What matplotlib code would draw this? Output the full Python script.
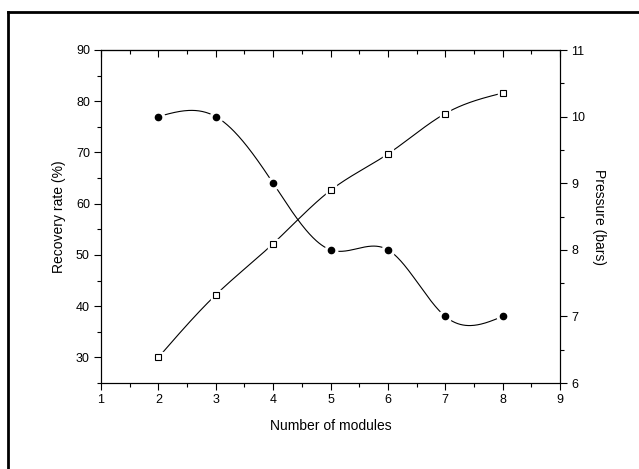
import numpy as np
import matplotlib
matplotlib.use("Agg")
import matplotlib.pyplot as plt
from matplotlib.ticker import MultipleLocator
from matplotlib.lines import Line2D

modules = [2, 3, 4, 5, 6, 7, 8]
recovery = [30.0, 42.2, 52.2, 62.6, 69.7, 77.6, 81.6]
pressure = [10, 10, 9, 8, 8, 7, 7]


def natural_spline(x, y, n=400):
    x = np.asarray(x, float)
    y = np.asarray(y, float)
    k = len(x)
    h = np.diff(x)
    A = np.zeros((k, k))
    b = np.zeros(k)
    A[0, 0] = 1
    A[-1, -1] = 1
    for i in range(1, k - 1):
        A[i, i - 1] = h[i - 1]
        A[i, i] = 2 * (h[i - 1] + h[i])
        A[i, i + 1] = h[i]
        b[i] = 3 * ((y[i + 1] - y[i]) / h[i] - (y[i] - y[i - 1]) / h[i - 1])
    c = np.linalg.solve(A, b)
    xs = np.linspace(x[0], x[-1], n)
    ys = np.empty_like(xs)
    for j, xv in enumerate(xs):
        i = min(np.searchsorted(x, xv, side="right") - 1, k - 2)
        dx = xv - x[i]
        bi = (y[i + 1] - y[i]) / h[i] - h[i] * (2 * c[i] + c[i + 1]) / 3
        di = (c[i + 1] - c[i]) / (3 * h[i])
        ys[j] = y[i] + bi * dx + c[i] * dx ** 2 + di * dx ** 3
    return xs, ys


plt.rcParams["font.family"] = ["Liberation Sans", "DejaVu Sans"]

fig = plt.figure(figsize=(6.39, 4.69), dpi=100)
ax = fig.add_axes([101 / 639, 1 - 383 / 469, (560 - 101) / 639, (383 - 50) / 469])
ax2 = ax.twinx()

ax.set_xlim(1, 9)
ax.set_ylim(25, 90)
ax2.set_ylim(6, 11)

xs, ys = natural_spline(modules, recovery)
ax.plot(xs, ys, color="black", lw=0.8, zorder=2)
ax.plot(modules, recovery, ls="none", marker="s", ms=7, mfc="white", mec="white", zorder=3)
ax.plot(modules, recovery, ls="none", marker="s", ms=3.8, mfc="white", mec="black", mew=0.8, zorder=4)

xs2, ys2 = natural_spline(modules, pressure)
ax2.plot(xs2, ys2, color="black", lw=0.8, zorder=2)
ax2.plot(modules, pressure, ls="none", marker="o", ms=9, mfc="white", mec="white", zorder=3)
ax2.plot(modules, pressure, ls="none", marker="o", ms=4.5, mfc="black", mec="black", zorder=4)

ax.xaxis.set_major_locator(MultipleLocator(1))
ax.xaxis.set_minor_locator(MultipleLocator(0.5))
ax.set_yticks([30, 40, 50, 60, 70, 80, 90])
ax.yaxis.set_minor_locator(MultipleLocator(5))
ax2.yaxis.set_major_locator(MultipleLocator(1))
ax2.yaxis.set_minor_locator(MultipleLocator(0.5))

ax.tick_params(axis="x", which="both", direction="out", top=False, labelsize=9, pad=3)
ax.tick_params(axis="y", which="both", direction="out", right=False, labelsize=9, pad=3)
for a in (ax, ax2):
    a.tick_params(which="major", length=5, width=0.8)
    a.tick_params(which="minor", length=3, width=0.8)
ax2.tick_params(axis="y", which="both", direction="out", labelsize=9, pad=3)

# top ticks inward
secx = ax.secondary_xaxis("top")
secx.xaxis.set_major_locator(MultipleLocator(1))
secx.xaxis.set_minor_locator(MultipleLocator(0.5))
secx.tick_params(which="both", direction="in", labeltop=False, labelbottom=False)
secx.tick_params(which="major", length=5, width=0.8)
secx.tick_params(which="minor", length=3, width=0.8)

for a in (ax, ax2):
    for s in a.spines.values():
        s.set_linewidth(0.8)
secx.spines["top"].set_linewidth(0.8)

ax.set_xlabel("Number of modules", fontsize=10, labelpad=9)
ax.set_ylabel("Recovery rate (%)", fontsize=10, labelpad=7)
ax2.set_ylabel("Pressure (bars)", fontsize=10, rotation=270, labelpad=15)

# figure border (top and left edges)
fig.add_artist(Line2D([8 / 639, 1.0], [1 - 12 / 469, 1 - 12 / 469], transform=fig.transFigure, color="black", lw=2))
fig.add_artist(Line2D([8 / 639, 8 / 639], [1 - 12 / 469, 0.0], transform=fig.transFigure, color="black", lw=2))

fig.savefig("out.png", dpi=100)
